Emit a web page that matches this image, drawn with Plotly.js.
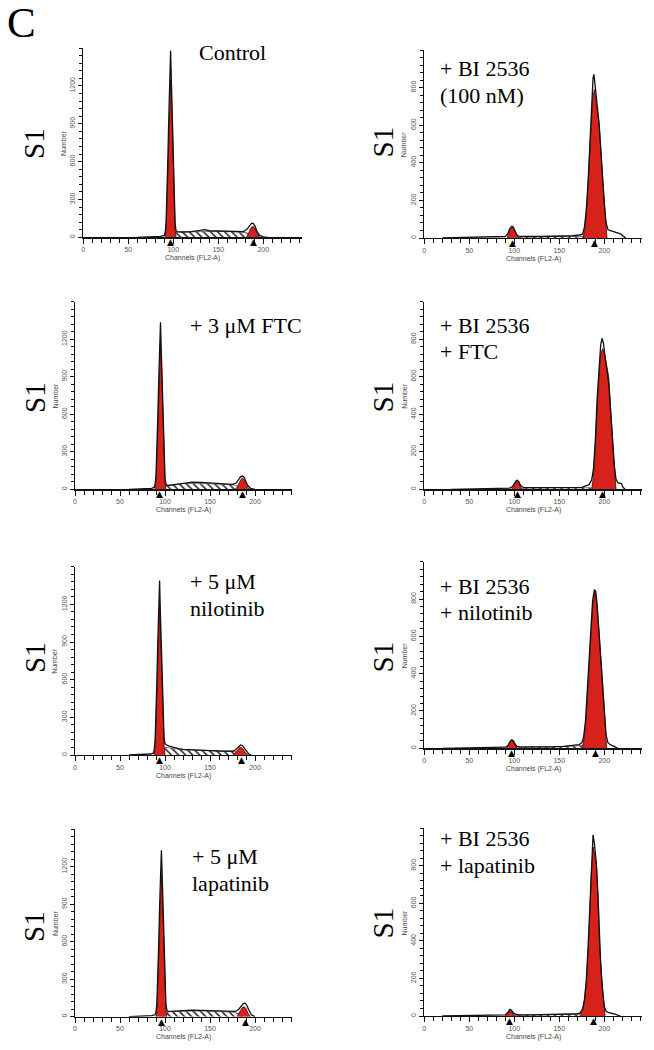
<!DOCTYPE html>
<html>
<head>
<meta charset="utf-8">
<script src="https://cdn.plot.ly/plotly-3.0.1.min.js"></script>
<style>html,body{margin:0;padding:0;background:#fff;}#chart{width:654px;height:1050px;}</style>
</head>
<body>
<div id="chart"></div>
<script>
// ---------------- DATA ----------------
const xTickVals = [0, 50, 100, 150, 200];
const yTickValsLeft = [0, 300, 600, 900, 1200];
const yTickValsRight = [0, 200, 400, 600, 800];
const rowLabel = "S1";
const panelLabel = "C";

// Panel 1: Control
const ctrl_title = ["Control"];
const ctrl_ch = [60, 70, 80, 86, 90, 91, 92, 93, 94, 95, 96, 97, 98, 99, 100, 101, 102, 103, 104, 110, 120, 130, 135, 140, 150, 160, 170, 178, 182, 185, 187, 189, 191, 193, 196, 200, 205];
const ctrl_n  = [0, 3, 5, 8, 15, 40, 120, 330, 640, 950, 1250, 1480, 1200, 900, 580, 290, 110, 55, 45, 42, 45, 55, 60, 52, 50, 48, 42, 45, 65, 95, 112, 108, 85, 45, 15, 4, 0];
const ctrl_g1_ch = [91, 92, 93, 94, 95, 96, 97, 98, 99, 100, 101, 102, 103];
const ctrl_g1 = [0, 80, 280, 580, 880, 1120, 1250, 1120, 850, 550, 260, 70, 0];
const ctrl_s_ch = [95, 100, 105, 115, 130, 150, 170, 180, 188, 195];
const ctrl_s = [0, 30, 42, 44, 48, 47, 42, 38, 20, 0];
const ctrl_g2_ch = [181, 183, 185, 187, 189, 191, 193, 196];
const ctrl_g2 = [0, 20, 55, 82, 85, 65, 30, 0];
const ctrl_marks = [97, 189.5];

// Panel 2: + BI 2536 (100 nM)
const bi_title = ["+ BI 2536", "(100 nM)"];
const bi_ch = [20, 40, 60, 80, 90, 93, 95, 97, 98, 99, 101, 103, 105, 110, 130, 150, 165, 172, 176, 178, 180, 182, 184, 186, 187.5, 188.5, 190, 192, 194, 196, 198, 200, 202, 204, 206, 210, 214, 218, 221, 224];
const bi_n  = [0, 2, 3, 5, 8, 25, 50, 62, 62, 55, 30, 15, 10, 8, 8, 9, 12, 16, 20, 60, 150, 300, 520, 720, 850, 870, 800, 700, 620, 480, 320, 180, 80, 45, 40, 35, 28, 22, 10, 0];
const bi_g1_ch = [92, 94, 96, 98, 100, 102, 105];
const bi_g1 = [0, 22, 50, 60, 48, 18, 0];
const bi_s_ch = [100, 110, 140, 170, 180, 190];
const bi_s = [0, 6, 7, 8, 8, 0];
const bi_g2_ch = [176.5, 179, 181, 183.4, 185.2, 187, 189, 191, 193, 194.5, 197, 199.7, 201.5, 203];
const bi_g2 = [0, 70, 200, 400, 600, 740, 790, 720, 650, 600, 400, 200, 80, 0];
const bi_marks = [98, 189];

// Panel 3: + 3 µM FTC
const ftc_title = ["+ 3 μM FTC"];
const ftc_ch = [60, 75, 85, 88, 89, 90, 91, 92, 93, 94, 95, 96, 97, 98, 99, 100, 101, 102, 105, 110, 120, 130, 140, 150, 160, 170, 175, 179, 182, 184, 186, 188, 190, 192, 195, 200];
const ftc_n  = [0, 3, 8, 15, 40, 110, 300, 580, 870, 1150, 1335, 1080, 800, 520, 250, 90, 45, 32, 32, 38, 50, 58, 55, 50, 47, 40, 40, 50, 80, 100, 106, 95, 60, 30, 8, 0];
const ftc_g1_ch = [89, 90, 91, 92, 93, 94, 95, 96, 97, 98, 99, 100, 101];
const ftc_g1 = [0, 70, 250, 520, 800, 1050, 1150, 1000, 750, 480, 220, 60, 0];
const ftc_s_ch = [92, 98, 105, 120, 140, 160, 175, 182, 190];
const ftc_s = [0, 25, 35, 45, 48, 42, 36, 25, 0];
const ftc_g2_ch = [178, 181, 183, 185, 186.5, 188, 190, 192, 194];
const ftc_g2 = [0, 25, 60, 85, 88, 75, 40, 12, 0];
const ftc_marks = [94.4, 186];

// Panel 4: + BI 2536 + FTC
const biftc_title = ["+ BI 2536", "+ FTC"];
const biftc_ch = [30, 60, 85, 95, 98, 100, 102, 103.5, 105, 107, 110, 120, 140, 160, 175, 183, 186, 188, 190, 192, 194, 196, 197.5, 199, 201, 203, 205, 207, 209, 211, 213, 215, 219, 221, 223];
const biftc_n  = [0, 2, 4, 6, 15, 32, 45, 48, 40, 20, 10, 9, 8, 8, 10, 25, 50, 110, 260, 480, 650, 770, 805, 780, 700, 640, 560, 420, 260, 130, 55, 35, 30, 10, 0];
const biftc_g1_ch = [97, 99, 101, 103, 105, 107, 109];
const biftc_g1 = [0, 15, 38, 47, 38, 12, 0];
const biftc_s_ch = [105, 115, 140, 170, 185, 195];
const biftc_s = [0, 7, 8, 9, 8, 0];
const biftc_g2_ch = [186, 188, 189.7, 191.5, 193.8, 196, 198.2, 200.5, 202.5, 204.9, 207.4, 210, 211.5, 213];
const biftc_g2 = [0, 70, 200, 400, 600, 720, 750, 720, 660, 600, 400, 200, 80, 0];
const biftc_marks = [103.3, 198];

// Panel 5: + 5 µM nilotinib
const nil_title = ["+ 5 μM", "nilotinib"];
const nil_ch = [60, 75, 84, 87, 88, 89, 90, 91, 92, 93, 94, 95, 96, 97, 98, 99, 100, 102, 105, 110, 115, 120, 130, 140, 150, 160, 170, 175, 178, 180, 182, 184, 186, 188, 190, 193, 196];
const nil_n  = [0, 3, 8, 15, 40, 110, 310, 600, 900, 1200, 1390, 1100, 800, 500, 260, 130, 90, 78, 70, 58, 50, 45, 40, 37, 35, 32, 30, 30, 40, 55, 72, 80, 75, 55, 30, 8, 0];
const nil_g1_ch = [88, 89, 90, 91, 92, 93, 94, 95, 96, 97, 98, 99, 100];
const nil_g1 = [0, 70, 260, 530, 820, 1080, 1180, 1000, 720, 430, 200, 70, 0];
const nil_s_ch = [92, 97, 100, 105, 110, 120, 140, 160, 175, 182, 190];
const nil_s = [0, 40, 60, 58, 50, 42, 36, 32, 30, 20, 0];
const nil_g2_ch = [176, 179, 181, 183, 185, 187, 189, 192];
const nil_g2 = [0, 25, 50, 60, 58, 45, 22, 0];
const nil_marks = [93.7, 185];

// Panel 6: + BI 2536 + nilotinib
const binil_title = ["+ BI 2536", "+ nilotinib"];
const binil_ch = [20, 50, 80, 90, 93, 95, 97, 99, 101, 103, 106, 120, 140, 155, 165, 172, 175, 177, 179, 181, 183, 185, 187, 189, 190.5, 192, 194, 196, 198, 200, 202, 204, 207, 211, 215];
const binil_n  = [0, 3, 4, 6, 15, 35, 45, 40, 22, 10, 8, 7, 8, 10, 15, 20, 30, 60, 140, 290, 480, 650, 790, 850, 840, 770, 620, 480, 320, 170, 70, 30, 18, 10, 0];
const binil_g1_ch = [91, 93, 95, 97, 99, 101, 103];
const binil_g1 = [0, 12, 32, 40, 32, 12, 0];
const binil_s_ch = [100, 110, 140, 165, 180, 190];
const binil_s = [0, 6, 8, 12, 15, 0];
const binil_g2_ch = [175.6, 178, 180.4, 182.6, 184.9, 187, 189.7, 192, 194.5, 197.1, 199.7, 201.2, 202.7];
const binil_g2 = [0, 70, 200, 400, 600, 760, 845, 760, 600, 400, 200, 80, 0];
const binil_marks = [97, 189.7];

// Panel 7: + 5 µM lapatinib
const lap_title = ["+ 5 μM", "lapatinib"];
const lap_ch = [60, 75, 85, 89, 90, 91, 92, 93, 94, 95, 96, 97, 98, 99, 100, 101, 102, 103, 106, 110, 120, 130, 140, 150, 160, 170, 178, 182, 185, 187, 189, 191, 193, 196, 200];
const lap_n  = [0, 3, 8, 15, 40, 110, 300, 580, 880, 1180, 1333, 1100, 800, 500, 250, 100, 55, 42, 42, 45, 48, 52, 50, 48, 42, 38, 42, 60, 85, 105, 108, 90, 55, 15, 0];
const lap_g1_ch = [90, 91, 92, 93, 94, 95, 96, 97, 98, 99, 100, 101, 102];
const lap_g1 = [0, 70, 260, 530, 820, 1050, 1150, 1000, 720, 430, 200, 60, 0];
const lap_s_ch = [94, 100, 105, 120, 140, 160, 175, 183, 192];
const lap_s = [0, 30, 40, 45, 47, 42, 36, 25, 0];
const lap_g2_ch = [180, 182, 184, 186, 188, 190, 192, 195];
const lap_g2 = [0, 20, 50, 75, 80, 65, 30, 0];
const lap_marks = [96.3, 188.9];

// Panel 8: + BI 2536 + lapatinib
const bilap_title = ["+ BI 2536", "+ lapatinib"];
const bilap_ch = [20, 50, 80, 90, 93, 95, 97, 99, 102, 106, 120, 140, 160, 170, 173, 176, 178, 180, 182, 184, 186, 187.5, 189, 191, 193, 194.5, 196, 198, 200, 202, 205, 210, 215, 218];
const bilap_n  = [0, 3, 4, 6, 20, 35, 30, 15, 8, 6, 6, 7, 9, 12, 15, 40, 90, 190, 370, 620, 840, 965, 920, 820, 640, 420, 280, 140, 50, 25, 18, 12, 6, 0];
const bilap_g1_ch = [90, 92, 94, 95.5, 97, 99, 101];
const bilap_g1 = [0, 12, 26, 28, 22, 8, 0];
const bilap_s_ch = [98, 110, 140, 165, 178, 188];
const bilap_s = [0, 5, 7, 9, 10, 0];
const bilap_g2_ch = [173, 176, 178, 180.4, 182.6, 184.1, 186, 187.8, 189.5, 191.5, 193.3, 194.5, 197.1, 199, 200.8];
const bilap_g2 = [0, 30, 80, 200, 400, 600, 800, 900, 860, 800, 600, 400, 200, 80, 0];
const bilap_marks = [95.2, 188.5];

// ---------------- LAYOUT / DRAWING ----------------
const W = 654, H = 1050;
const fx = px => px / W;
const fy = py => 1 - py / H;
const PX_PER_CH = 0.9;
const RED = '#d6221a';

const panels = [
  {title: ctrl_title, ch: ctrl_ch, n: ctrl_n, g1x: ctrl_g1_ch, g1: ctrl_g1, sx: ctrl_s_ch, s: ctrl_s, g2x: ctrl_g2_ch, g2: ctrl_g2, marks: ctrl_marks,
   L: 83.3, R: 301.7, T: 48, B: 237.3, ymax: 1500, yt: yTickValsLeft, minor: 60, tx: 197, ty: [52], s1: [34, 144]},
  {title: bi_title, ch: bi_ch, n: bi_n, g1x: bi_g1_ch, g1: bi_g1, sx: bi_s_ch, s: bi_s, g2x: bi_g2_ch, g2: bi_g2, marks: bi_marks,
   L: 424.3, R: 641.7, T: 50, B: 238, ymax: 1000, yt: yTickValsRight, minor: 40, tx: 438, ty: [68, 95], s1: [382.5, 142]},
  {title: ftc_title, ch: ftc_ch, n: ftc_n, g1x: ftc_g1_ch, g1: ftc_g1, sx: ftc_s_ch, s: ftc_s, g2x: ftc_g2_ch, g2: ftc_g2, marks: ftc_marks,
   L: 75, R: 292, T: 301.7, B: 489.3, ymax: 1500, yt: yTickValsLeft, minor: 60, tx: 188.3, ty: [325], s1: [35, 398]},
  {title: biftc_title, ch: biftc_ch, n: biftc_n, g1x: biftc_g1_ch, g1: biftc_g1, sx: biftc_s_ch, s: biftc_s, g2x: biftc_g2_ch, g2: biftc_g2, marks: biftc_marks,
   L: 424.3, R: 641.7, T: 301.7, B: 489.3, ymax: 1000, yt: yTickValsRight, minor: 40, tx: 438, ty: [325, 351], s1: [382.5, 397]},
  {title: nil_title, ch: nil_ch, n: nil_n, g1x: nil_g1_ch, g1: nil_g1, sx: nil_s_ch, s: nil_s, g2x: nil_g2_ch, g2: nil_g2, marks: nil_marks,
   L: 75, R: 292, T: 566.7, B: 755, ymax: 1500, yt: yTickValsLeft, minor: 60, tx: 188.3, ty: [581.7, 608.5], s1: [35, 658]},
  {title: binil_title, ch: binil_ch, n: binil_n, g1x: binil_g1_ch, g1: binil_g1, sx: binil_s_ch, s: binil_s, g2x: binil_g2_ch, g2: binil_g2, marks: binil_marks,
   L: 424.3, R: 641.7, T: 561.7, B: 748.3, ymax: 1000, yt: yTickValsRight, minor: 40, tx: 438, ty: [586.7, 612.7], s1: [382.5, 657]},
  {title: lap_title, ch: lap_ch, n: lap_n, g1x: lap_g1_ch, g1: lap_g1, sx: lap_s_ch, s: lap_s, g2x: lap_g2_ch, g2: lap_g2, marks: lap_marks,
   L: 75, R: 292, T: 829.3, B: 1016.7, ymax: 1500, yt: yTickValsLeft, minor: 60, tx: 190, ty: [856.7, 883], s1: [34, 927]},
  {title: bilap_title, ch: bilap_ch, n: bilap_n, g1x: bilap_g1_ch, g1: bilap_g1, sx: bilap_s_ch, s: bilap_s, g2x: bilap_g2_ch, g2: bilap_g2, marks: bilap_marks,
   L: 424.3, R: 641.7, T: 828.3, B: 1016, ymax: 1000, yt: yTickValsRight, minor: 40, tx: 438, ty: [838.3, 865], s1: [382.5, 923]}
];

const traces = [];
const layout = {
  width: W, height: H,
  margin: {l: 0, r: 0, t: 0, b: 0},
  paper_bgcolor: '#fff', plot_bgcolor: 'rgba(0,0,0,0)',
  showlegend: false,
  annotations: [],
  font: {family: 'Liberation Sans, Arial, sans-serif', color: '#444'}
};

const serif = 'Liberation Serif, Times New Roman, serif';
const sans = 'Liberation Sans, Arial, sans-serif';
const tickFont = {family: sans, size: 7, color: '#555'};

layout.annotations.push({
  text: panelLabel, xref: 'paper', yref: 'paper', x: fx(5), y: fy(22.5),
  xanchor: 'left', yanchor: 'middle', showarrow: false,
  font: {family: serif, size: 43, color: '#000'}
});

panels.forEach((p, i) => {
  const k = i === 0 ? '' : String(i + 1);
  const xa = 'x' + k, ya = 'y' + k;
  const xmax = (p.R - p.L) / PX_PER_CH;

  layout['xaxis' + k] = {
    domain: [fx(p.L), fx(p.R)], range: [0, xmax], anchor: ya,
    showgrid: false, zeroline: false, fixedrange: true,
    showline: true, linecolor: '#111', linewidth: 1.3,
    ticks: 'outside', ticklen: 5, tickwidth: 1, tickcolor: '#111',
    tickmode: 'array', tickvals: xTickVals, ticktext: xTickVals.map(String),
    tickfont: tickFont,
    minor: {dtick: 10, tick0: 0, ticks: 'outside', ticklen: 4, tickwidth: 1, tickcolor: '#111', showgrid: false}
  };
  layout['yaxis' + k] = {
    domain: [fy(p.B), fy(p.T)], range: [0, p.ymax], anchor: xa,
    showgrid: false, zeroline: false, fixedrange: true,
    showline: true, linecolor: '#111', linewidth: 1.3,
    ticks: 'outside', ticklen: 4, tickwidth: 1, tickcolor: '#111',
    tickmode: 'array', tickvals: p.yt, ticktext: p.yt.map(String),
    tickangle: -90, tickfont: tickFont,
    minor: {dtick: p.minor, tick0: 0, ticks: 'outside', ticklen: 3, tickwidth: 1, tickcolor: '#111', showgrid: false}
  };

  // S-phase (hatched)
  traces.push({
    type: 'scatter', mode: 'lines', x: p.sx, y: p.s, xaxis: xa, yaxis: ya,
    fill: 'tozeroy', fillcolor: 'rgba(255,255,255,0)',
    fillpattern: {shape: '\\', size: 5, solidity: 0.3, fgcolor: '#222', bgcolor: 'rgba(255,255,255,0)'},
    line: {color: '#444', width: 0.7}, hoverinfo: 'skip'
  });
  // G1 and G2 (red)
  [[p.g1x, p.g1], [p.g2x, p.g2]].forEach(([gx, gy]) => {
    traces.push({
      type: 'scatter', mode: 'lines', x: gx, y: gy, xaxis: xa, yaxis: ya,
      fill: 'tozeroy', fillcolor: RED, line: {color: '#3a0a06', width: 0.8},
      hoverinfo: 'skip'
    });
  });
  // Data histogram outline
  traces.push({
    type: 'scatter', mode: 'lines', x: p.ch, y: p.n, xaxis: xa, yaxis: ya,
    line: {color: '#111', width: 1.3}, hoverinfo: 'skip'
  });
  // Peak markers (triangles just below the baseline), placed through the data axes
  p.marks.forEach(m => {
    layout.annotations.push({
      text: '▲', xref: xa, yref: ya, x: m, y: 0, yshift: -5,
      xanchor: 'center', yanchor: 'middle', showarrow: false,
      font: {family: 'DejaVu Sans, sans-serif', size: 9, color: '#000'}
    });
  });

  // Titles
  p.title.forEach((t, j) => {
    layout.annotations.push({
      text: t, xref: 'paper', yref: 'paper', x: fx(p.tx), y: fy(p.ty[j]),
      xanchor: 'left', yanchor: 'middle', showarrow: false,
      font: {family: serif, size: 22, color: '#000'}
    });
  });
  // Row label S1
  layout.annotations.push({
    text: rowLabel, xref: 'paper', yref: 'paper', x: fx(p.s1[0]), y: fy(p.s1[1]),
    xanchor: 'center', yanchor: 'middle', showarrow: false, textangle: -90,
    font: {family: serif, size: 29, color: '#000'}
  });
  // Axis titles
  layout.annotations.push({
    text: 'Number', xref: 'paper', yref: 'paper', x: fx(p.L - 20), y: fy((p.T + p.B) / 2),
    xanchor: 'center', yanchor: 'middle', showarrow: false, textangle: -90,
    font: {family: sans, size: 7, color: '#444'}
  });
  layout.annotations.push({
    text: 'Channels (FL2-A)', xref: 'paper', yref: 'paper', x: fx((p.L + p.R) / 2), y: fy(p.B + 20.5),
    xanchor: 'center', yanchor: 'middle', showarrow: false,
    font: {family: sans, size: 7, color: '#444'}
  });
});

Plotly.newPlot('chart', traces, layout, {staticPlot: true, displayModeBar: false});
</script>
</body>
</html>
